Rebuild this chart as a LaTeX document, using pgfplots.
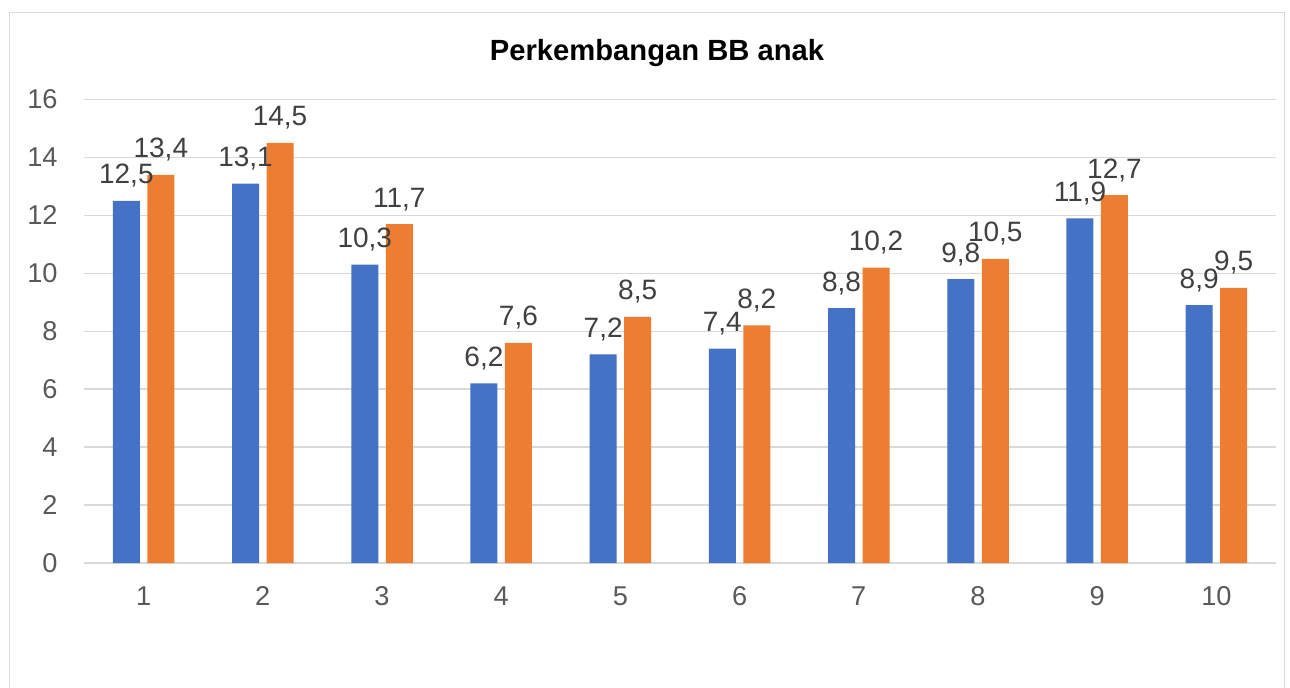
\documentclass[border=0pt]{standalone}
\usepackage{fontspec}
\setmainfont{Liberation Sans}
\usepackage{pgfplots}
\pgfplotsset{compat=1.18}
\definecolor{cblue}{HTML}{4472C4}
\definecolor{corange}{HTML}{ED7D31}
\definecolor{cgrid}{HTML}{D9D9D9}
\definecolor{ctick}{HTML}{595959}
\definecolor{clab}{HTML}{404040}
\begin{document}
\begin{tikzpicture}
\path[use as bounding box] (0pt,0pt) rectangle (645pt,-343.5pt);
\begin{scope}
\clip (0pt,0pt) rectangle (645pt,-343.5pt);
\draw[cgrid, line width=0.75pt] (4.75pt,-6.25pt) rectangle (642.25pt,-360pt);
\end{scope}
\node[anchor=base, inner sep=0pt, font=\fontsize{14.6}{17}\selectfont\bfseries] at (328.5pt,-30pt) {Perkembangan BB anak};
\begin{axis}[
  at={(42pt,-281.5pt)}, anchor=south west,
  scale only axis, width=596pt, height=231.75pt,
  /pgf/number format/assume math mode=true,
  ybar=3.75pt, bar width=13.5pt,
  xmin=0.5, xmax=10.5, ymin=0, ymax=16,
  xtick={1,...,10}, ytick={0,2,...,16},
  axis line style={draw=none}, tick style={draw=none},
  ymajorgrids, major grid style={cgrid, line width=0.75pt},
  ticklabel style={font=\fontsize{13.6}{16}\selectfont, text=ctick, inner sep=0pt},
  yticklabel style={anchor=east, xshift=-13pt},
  xticklabel style={anchor=north, yshift=-7.5pt},
  nodes near coords={\pgfmathprintnumber[fixed,precision=1,use comma]{\pgfplotspointmeta}},
  every node near coord/.append style={font=\fontsize{14}{16}\selectfont, text=clab, anchor=base, inner sep=0pt, yshift=8.5pt},
  clip=false,
]
\addplot[fill=cblue, draw=none] coordinates {(1,12.5) (2,13.1) (3,10.3) (4,6.2) (5,7.2) (6,7.4) (7,8.8) (8,9.8) (9,11.9) (10,8.9)};
\addplot[fill=corange, draw=none] coordinates {(1,13.4) (2,14.5) (3,11.7) (4,7.6) (5,8.5) (6,8.2) (7,10.2) (8,10.5) (9,12.7) (10,9.5)};
\end{axis}
\end{tikzpicture}
\end{document}
